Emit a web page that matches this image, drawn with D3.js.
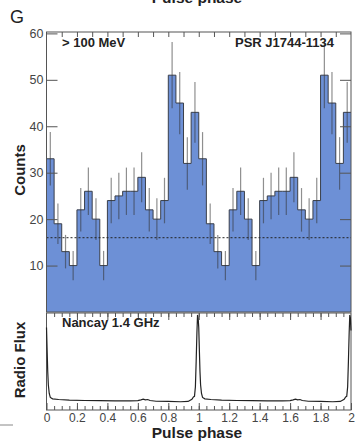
<!DOCTYPE html>
<html>
<head>
<meta charset="utf-8">
<script src="https://cdn.jsdelivr.net/npm/d3@7"></script>
<style>
  body { margin: 0; background: #fff; }
  svg { display: block; font-family: "Liberation Sans", Arial, sans-serif; }
</style>
</head>
<body>
<div id="chart"></div>
<script>
// gamma-ray counts, 20 phase bins per rotation (the plot shows two rotations)
var gammaCounts = [33, 19, 13, 10, 22, 26, 20, 10, 24, 25, 26, 26, 29, 22, 20, 24, 51, 45, 32, 43];
var rotations = [0, 1];
var backgroundLevel = 16;
var countTicks = [10, 20, 30, 40, 50, 60];
var phaseLabels = ["0", "0.2", "0.4", "0.6", "0.8", "1", "1.2", "1.4", "1.6", "1.8", "2"];

// radio profile for one rotation (phase, relative flux)
var radioPhase = [0.000, 0.004, 0.008, 0.012, 0.018, 0.025, 0.04, 0.08, 0.15, 0.25, 0.35, 0.45, 0.55, 0.60,
                  0.62, 0.635, 0.65, 0.665, 0.68, 0.72, 0.80, 0.88, 0.93, 0.955, 0.965, 0.972, 0.978,
                  0.983, 0.988, 0.992, 0.996];
var radioFlux = [0.85, 0.62, 0.40, 0.26, 0.17, 0.13, 0.115, 0.108, 0.102, 0.098, 0.096, 0.095, 0.095, 0.097,
                 0.105, 0.112, 0.104, 0.108, 0.098, 0.09, 0.088, 0.085, 0.088, 0.11, 0.135, 0.14, 0.24,
                 0.5, 0.8, 0.98, 0.95];

var width = 357, height = 445;
var binWidth = 1 / gammaCounts.length;

var svg = d3.select("#chart").append("svg")
    .attr("width", width)
    .attr("height", height);

var x = d3.scaleLinear().domain([0, 2]).range([46.5, 351]);
var y = d3.scaleLinear().domain([0, 60.3]).range([312, 32]);
var yr = d3.scaleLinear().domain([0, 1]).range([410, 313]);

// bins over both rotations
var bins = [];
rotations.forEach(function(r) {
  gammaCounts.forEach(function(n, i) {
    bins.push({p: r + i * binWidth, n: n});
  });
});
var stepPts = bins.concat([{p: 2, n: bins[bins.length - 1].n}]);

var area = d3.area()
    .curve(d3.curveStepAfter)
    .x(function(d) { return x(d.p); })
    .y0(y(0))
    .y1(function(d) { return y(d.n); });

var line = d3.line()
    .curve(d3.curveStepAfter)
    .x(function(d) { return x(d.p); })
    .y(function(d) { return y(d.n); });

svg.append("path")
    .attr("d", area(stepPts))
    .attr("fill", "#6d90d6");

svg.append("path")
    .attr("d", line(stepPts))
    .attr("fill", "none")
    .attr("stroke", "#3a3f4a")
    .attr("stroke-width", 1);

// poisson error bars
svg.append("g")
  .selectAll("line")
  .data(bins)
  .enter().append("line")
    .attr("x1", function(d) { return x(d.p + binWidth / 2); })
    .attr("x2", function(d) { return x(d.p + binWidth / 2); })
    .attr("y1", function(d) { return y(d.n - Math.sqrt(d.n)); })
    .attr("y2", function(d) { return y(d.n + Math.sqrt(d.n)); })
    .attr("stroke", "#333")
    .attr("stroke-opacity", 0.55)
    .attr("stroke-width", 1.2);

// background level
svg.append("line")
    .attr("x1", x(0)).attr("x2", x(2))
    .attr("y1", y(backgroundLevel)).attr("y2", y(backgroundLevel))
    .attr("stroke", "#222")
    .attr("stroke-width", 1)
    .attr("stroke-dasharray", "2,2");

// frames and ticks of the gamma panel
var axisColor = "#555";
svg.append("rect")
    .attr("x", x(0)).attr("y", y(60.3))
    .attr("width", x(2) - x(0)).attr("height", y(0) - y(60.3))
    .attr("fill", "none").attr("stroke", axisColor);

var gLeft = svg.append("g")
    .attr("transform", "translate(" + x(0) + ",0)")
    .call(d3.axisLeft(y).tickValues(countTicks).tickSize(-11).tickPadding(3));
var gRight = svg.append("g")
    .attr("transform", "translate(" + x(2) + ",0)")
    .call(d3.axisRight(y).tickValues(countTicks).tickSize(-11).tickFormat(""));
var gTop = svg.append("g")
    .attr("transform", "translate(0," + y(60.3) + ")")
    .call(d3.axisTop(x).tickValues(d3.range(1, 20).map(function(i) { return i / 10; }))
      .tickSize(-5).tickFormat(""));

[gLeft, gRight, gTop].forEach(function(g) {
  g.select(".domain").remove();
  g.selectAll("line").attr("stroke", axisColor);
  g.selectAll("text").attr("fill", "#444").style("font-size", "12.5px");
});

// radio panel
var radioPts = [];
rotations.forEach(function(r) {
  radioPhase.forEach(function(p, i) {
    radioPts.push({p: r + p, f: radioFlux[i]});
  });
});
radioPts.push({p: 2, f: 0.82});

svg.append("rect")
    .attr("x", x(0)).attr("y", yr(1))
    .attr("width", x(2) - x(0)).attr("height", yr(0) - yr(1))
    .attr("fill", "#fff").attr("stroke", axisColor);

svg.append("path")
    .attr("d", d3.line()
      .x(function(d) { return x(d.p); })
      .y(function(d) { return yr(d.f); })(radioPts))
    .attr("fill", "none")
    .attr("stroke", "#222")
    .attr("stroke-width", 1.2);

var minorPhase = d3.range(1, 40).map(function(i) { return i / 20; });
var majorPhase = d3.range(0, 11).map(function(i) { return i / 5; });

var gRTopMinor = svg.append("g")
    .attr("transform", "translate(0," + yr(1) + ")")
    .call(d3.axisTop(x).tickValues(minorPhase).tickSize(-4).tickFormat(""));
var gRTopMajor = svg.append("g")
    .attr("transform", "translate(0," + yr(1) + ")")
    .call(d3.axisTop(x).tickValues(majorPhase.slice(1, 10)).tickSize(-7).tickFormat(""));
var gRBotMinor = svg.append("g")
    .attr("transform", "translate(0," + yr(0) + ")")
    .call(d3.axisBottom(x).tickValues(minorPhase).tickSize(-4).tickFormat(""));
var gRBot = svg.append("g")
    .attr("transform", "translate(0," + yr(0) + ")")
    .call(d3.axisBottom(x).tickValues(majorPhase).tickSize(-7).tickPadding(3)
      .tickFormat(function(d, i) { return phaseLabels[i]; }));

[gRTopMinor, gRTopMajor, gRBotMinor, gRBot].forEach(function(g) {
  g.select(".domain").remove();
  g.selectAll("line").attr("stroke", axisColor);
  g.selectAll("text").attr("fill", "#444").style("font-size", "12px");
});

// labels
svg.append("text")
    .attr("x", 10).attr("y", 23)
    .style("font-size", "18px")
    .attr("fill", "#222")
    .text("G");

// bottom of the axis title from the panel above, cut by the page edge as in the source
svg.append("text")
    .attr("x", 197).attr("y", 3)
    .attr("text-anchor", "middle")
    .style("font-size", "15.5px").style("font-weight", "bold")
    .attr("fill", "#222")
    .text("Pulse phase");

svg.append("text")
    .attr("x", 197).attr("y", 438)
    .attr("text-anchor", "middle")
    .style("font-size", "15.5px").style("font-weight", "bold")
    .attr("fill", "#222")
    .text("Pulse phase");

svg.append("text")
    .attr("x", 62).attr("y", 47)
    .style("font-size", "13px").style("font-weight", "bold")
    .attr("fill", "#222")
    .text("> 100 MeV");

svg.append("text")
    .attr("x", 334).attr("y", 47)
    .attr("text-anchor", "end")
    .style("font-size", "13px").style("font-weight", "bold")
    .attr("fill", "#222")
    .text("PSR J1744-1134");

svg.append("text")
    .attr("x", 62).attr("y", 327)
    .style("font-size", "13px").style("font-weight", "bold")
    .attr("fill", "#222")
    .text("Nancay 1.4 GHz");

svg.append("text")
    .attr("transform", "translate(25,170) rotate(-90)")
    .attr("text-anchor", "middle")
    .style("font-size", "15px").style("font-weight", "bold")
    .attr("fill", "#222")
    .text("Counts");

svg.append("text")
    .attr("transform", "translate(25,360) rotate(-90)")
    .attr("text-anchor", "middle")
    .style("font-size", "15px").style("font-weight", "bold")
    .attr("fill", "#222")
    .text("Radio Flux");

// stray rule left over from the panel below
svg.append("line")
    .attr("x1", 0).attr("x2", 13)
    .attr("y1", 425).attr("y2", 425)
    .attr("stroke", "#888");
</script>
</body>
</html>
